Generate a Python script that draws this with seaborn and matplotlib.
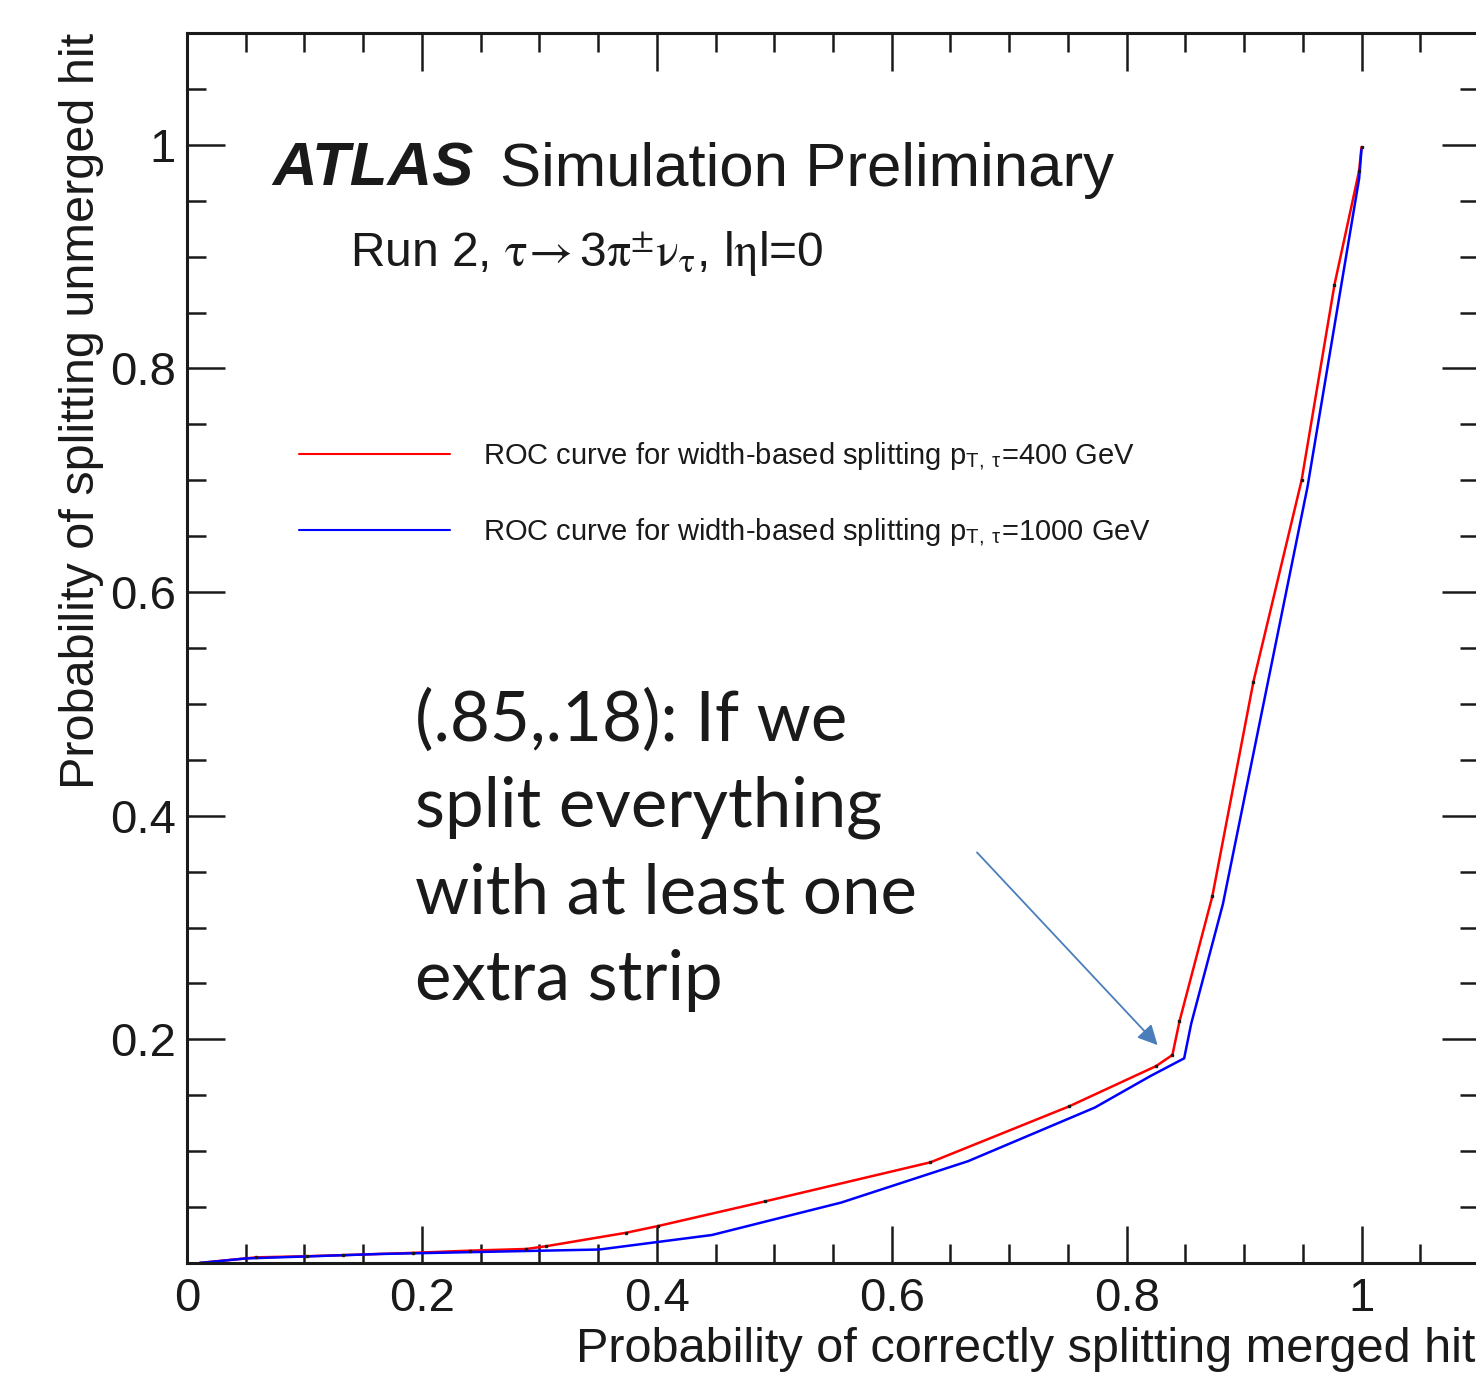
import numpy as np
import pandas as pd
import seaborn as sns
import matplotlib.pyplot as plt
from matplotlib.ticker import MultipleLocator, FixedLocator, FixedFormatter

# ROC points
red_x = [0.011, 0.059, 0.102, 0.133, 0.192, 0.241, 0.289, 0.306, 0.374, 0.401,
         0.492, 0.633, 0.751, 0.825, 0.839, 0.845, 0.873, 0.908, 0.949, 0.977,
         0.998, 1.0]
red_y = [0.0, 0.005, 0.006, 0.007, 0.009, 0.011, 0.0125, 0.015, 0.027, 0.033,
         0.055, 0.090, 0.140, 0.176, 0.186, 0.216, 0.328, 0.520, 0.700, 0.875,
         0.977, 0.998]
blue_x = [0.011, 0.05, 0.164, 0.351, 0.447, 0.557, 0.665, 0.773, 0.820, 0.849,
          0.855, 0.882, 0.954, 0.998, 1.0]
blue_y = [0.0, 0.004, 0.008, 0.012, 0.025, 0.054, 0.091, 0.139, 0.167, 0.183,
          0.214, 0.321, 0.694, 0.970, 0.996]

label_400 = r'ROC curve for width-based splitting p$_{\mathregular{T,\ \tau}}$=400 GeV'
label_1000 = r'ROC curve for width-based splitting p$_{\mathregular{T,\ \tau}}$=1000 GeV'

x_major = [0, 0.2, 0.4, 0.6, 0.8, 1.0]
x_labels = ['0', '0.2', '0.4', '0.6', '0.8', '1']
y_major = [0.2, 0.4, 0.6, 0.8, 1.0]
y_labels = ['0.2', '0.4', '0.6', '0.8', '1']

df = pd.concat([
    pd.DataFrame({'x': red_x, 'y': red_y, 'curve': label_400}),
    pd.DataFrame({'x': blue_x, 'y': blue_y, 'curve': label_1000}),
])

sns.set_theme(style='ticks')
plt.rcParams['font.family'] = ['Liberation Sans', 'DejaVu Sans']
plt.rcParams['mathtext.fontset'] = 'stix'
plt.rcParams['text.color'] = 'k'
plt.rcParams['axes.labelcolor'] = 'k'

fig = plt.figure(figsize=(14.76, 13.78), dpi=100, facecolor='w')
ax = fig.add_axes([0.1267, 0.0835, 1.002 - 0.1267, 0.976 - 0.0835])

sns.lineplot(data=df, x='x', y='y', hue='curve', sort=False, estimator=None,
             palette=['#ff0000', '#0000ff'], linewidth=1.8, ax=ax)
# tiny black markers on the red graph points
ax.plot(red_x, red_y, linestyle='none', marker='s', markersize=1.8, color='k')

ax.set_xlim(0, 1.1)
ax.set_ylim(0, 1.1)
ax.xaxis.set_major_locator(FixedLocator(x_major))
ax.xaxis.set_major_formatter(FixedFormatter(x_labels))
ax.yaxis.set_major_locator(FixedLocator(y_major))
ax.yaxis.set_major_formatter(FixedFormatter(y_labels))
ax.xaxis.set_minor_locator(MultipleLocator(0.05))
ax.yaxis.set_minor_locator(MultipleLocator(0.05))
ax.tick_params(which='both', direction='in', top=True, right=True,
               labelsize=34, width=1.8, color='k', labelcolor='k')
ax.tick_params(which='major', length=27)
ax.tick_params(which='minor', length=14)
ax.tick_params(axis='x', pad=10)
ax.tick_params(axis='y', pad=8)
for s in ax.spines.values():
    s.set_linewidth(2.2)
    s.set_color('k')

ax.set_xlabel('Probability of correctly splitting merged hit', fontsize=35,
              color='k', ha='right')
ax.xaxis.set_label_coords(0.997, -0.052)
ax.set_ylabel('Probability of splitting unmerged hit', fontsize=35,
              loc='top', color='k')

leg = ax.legend(loc='upper left', bbox_to_anchor=(0.0666, 0.69), frameon=False,
                fontsize=21, handlelength=5.15, handletextpad=1.15,
                labelspacing=1.5)
for line in leg.get_lines():
    line.set_linewidth(1.5)
for t in leg.get_texts():
    t.set_color('k')

ax.text(0.066, 0.876, 'ATLAS', transform=ax.transAxes, fontsize=44.5,
        fontweight='bold', fontstyle='italic', ha='left', va='baseline')
ax.text(0.242, 0.876, 'Simulation Preliminary', transform=ax.transAxes,
        fontsize=44.5, ha='left', va='baseline')
ax.text(0.126, 0.811,
        r'Run 2, $\mathrm{\tau}\!\rightarrow$3$\mathrm{\pi}^{\pm}\mathrm{\nu}_{\mathrm{\tau}}$, l$\mathrm{\eta}$l=0',
        transform=ax.transAxes, fontsize=34.5, ha='left', va='baseline')

ax.annotate('', xy=(0.828, 0.193), xytext=(0.671, 0.369),
            arrowprops=dict(arrowstyle='-|>', color='#4a7ebb', lw=1.3,
                            mutation_scale=30))
ax.text(0.194, 0.235, '(.85,.18): If we\nsplit everything\nwith at least one\nextra strip',
        fontsize=49.7, family='Lato', ha='left', va='baseline',
        linespacing=1.46, color='k')

fig.savefig('out.png', dpi=100, facecolor='w')
